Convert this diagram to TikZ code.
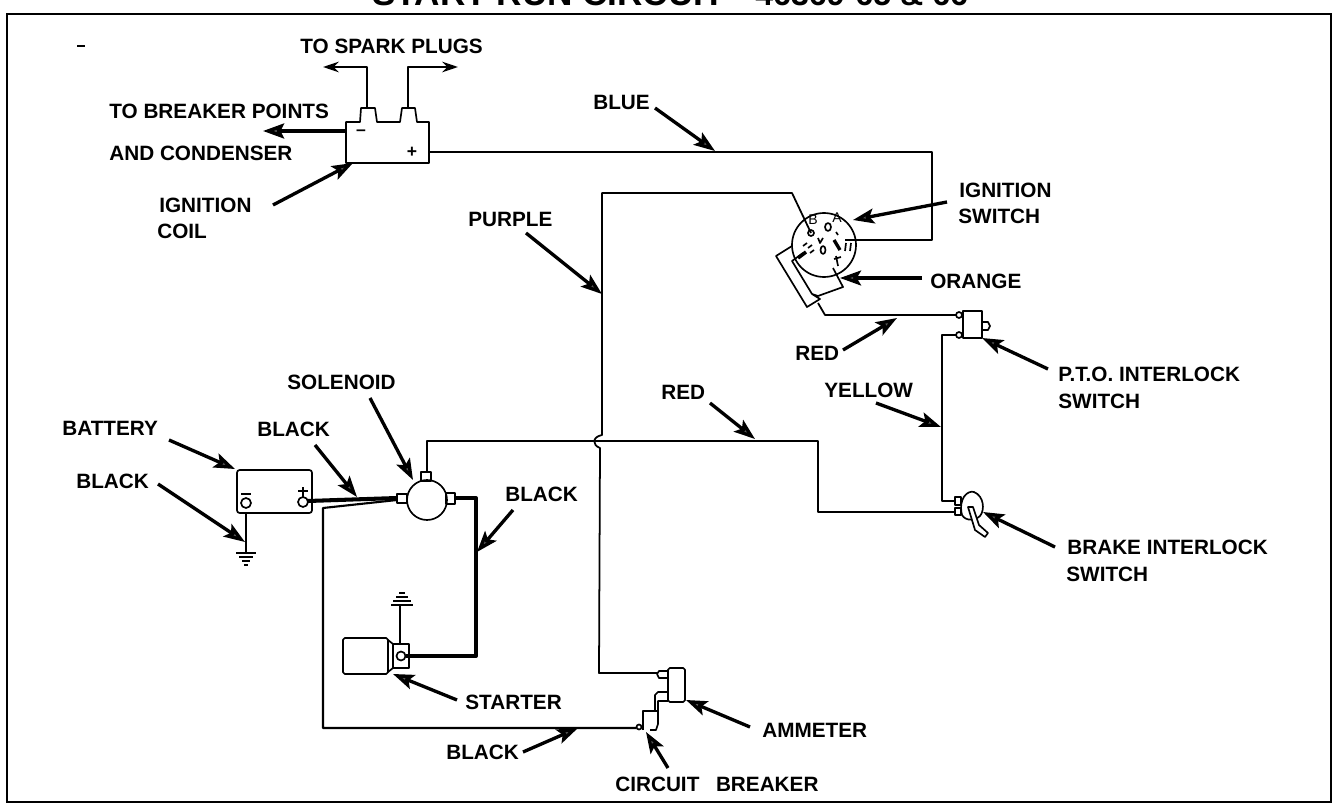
\documentclass[tikz,border=0pt]{standalone}
\usepackage{fontspec}
\setmainfont{Liberation Sans}
\usetikzlibrary{arrows.meta}
\tikzset{
    wire/.style={line width=1pt, line join=round},
    heavywire/.style={line width=2.3pt, line join=round},
    part/.style={line width=0.95pt, line join=round},
    pointer/.style={line width=1.9pt, -{Stealth[length=12pt, width=8.5pt, inset=2.5pt, fill=black!65]}},
    tag/.style={anchor=west, inner sep=0pt, font=\fontsize{11.8}{12}\selectfont\bfseries},
}

\begin{document}
\begin{tikzpicture}[x=0.02cm, y=-0.02cm]
                \useasboundingbox (0,0) rectangle (1332,804);
                \clip (0,0) rectangle (1332,804);
                \fill[white] (0,0) rectangle (1332,804);
                \draw[line width=1.2pt] (7,14) rectangle (1331,802);
                \node[anchor=base west, inner sep=0pt, font=\fontsize{20}{20}\selectfont\bfseries] (title) at (372,6) {START-RUN CIRCUIT};
                \node[anchor=base west, inner sep=0pt, font=\fontsize{18.3}{18}\selectfont\bfseries] (titlenum) at (755,6) {46369-65 \& 66};
                \fill (77,45) rectangle (85,47);

                % ignition coil
                \draw[part] (346,163) -- (346,122) -- (360,122) -- (361,108) -- (375,108) -- (377,122) -- (400,122) -- (402,108) -- (415,108) -- (417,122) -- (429,122) -- (429,163) -- cycle;
                \node[font=\bfseries, inner sep=0pt] (coilminus) at (361,133) {--};
                \node[font=\bfseries, inner sep=0pt] (coilplus) at (412,152) {+};
                \coordinate (plugleft) at (367,108);
                \coordinate (plugleftend) at (323,67);
                \coordinate (plugright) at (408,108);
                \coordinate (plugrightend) at (458,67);
                \draw[wire, line width=1.4pt, -{Stealth[length=9pt, width=6pt]}] (plugleft) |- (plugleftend);
                \draw[wire, line width=1.4pt, -{Stealth[length=9pt, width=6pt]}] (plugright) |- (plugrightend);
                \coordinate (coilside) at (346,131);
                \coordinate (pointsend) at (263,131);
                \draw[line width=2pt, -{Stealth[length=12pt, width=8.5pt, inset=2pt, fill=black!65]}] (coilside) -- (pointsend);

                % ignition switch
                \draw[part] (824,245) circle (32);
                \node[inner sep=0pt, font=\fontsize{8}{8}\selectfont] (termb) at (813,220) {B};
                \node[inner sep=0pt, font=\fontsize{8}{8}\selectfont] (terma) at (837,218) {A};
                \draw[part] (811,233) circle (3);
                \draw[part] (828,227) ellipse (3 and 4);
                \draw[part] (823,250) ellipse (2.5 and 4);
                \draw[part] (818,238) -- (820,243) -- (823,238);
                \draw[part] (836,232) -- (838,235);
                \draw[line width=1.9pt] (834,240) -- (840,250);
                \draw[part] (846,243) -- (845,251) (851,243) -- (850,251);
                \draw[part] (803,246) -- (807,243) (808,248) -- (812,245) (810,253) -- (814,250);
                \draw[line width=2pt] (798,258) -- (806,252);
                \draw[part] (834,259) -- (841,257) (836,256) -- (838,266);
                \draw[part] (792,246) -- (776,256) -- (807,307) -- (820,299) -- (812,294) -- (818,296) -- (843,287) -- (833,268);
                \draw[part] (803,253) -- (792,261) -- (812,294);

                % p.t.o. interlock switch
                \draw[part] (963,311) rectangle (982,338);
                \draw[part] (982,322) -- (988,322) -- (990,326) -- (988,330) -- (982,330);
                \draw[part] (959,315) circle (3);
                \draw[part] (959,335) circle (3);

                % brake interlock switch
                \draw[part] (962,515) .. controls (958,498) and (968,490) .. (974,492) .. controls (984,496) and (985,510) .. (980,516) .. controls (976,520) and (966,522) .. (962,515);
                \draw[part] (955,497) rectangle (961,505);
                \draw[part] (955,508) rectangle (961,515);
                \draw[part, fill=white] (968,507) -- (975,530) -- (985,537) -- (988,533) -- (979,525) -- (973,507) -- cycle;

                % solenoid
                \draw[part] (427,500) circle (20);
                \draw[part] (397,494) rectangle (407,503);
                \draw[part] (446,493) rectangle (455,504);
                \draw[part] (421,472) rectangle (431,481);

                % battery
                \draw[part, rounded corners=1.5pt] (237,470) rectangle (312,513);
                \draw[part] (246,503) circle (5);
                \draw[part] (241,494) -- (251,494);
                \draw[part] (303,502) circle (5);
                \draw[part] (298,491) -- (308,491) (303,487) -- (303,497);
                \coordinate (batground) at (246,513);
                \coordinate (batgroundend) at (246,553);
                \draw[wire] (batground) -- (batgroundend);
                \draw[wire] (236,553) -- (256,553) (239,557) -- (253,557) (242,561) -- (250,561) (244,565) -- (248,565);

                % starter
                \draw[part, rounded corners=1pt] (343,638) rectangle (388,674);
                \draw[part] (388,640) -- (393,644) (388,672) -- (393,668);
                \draw[part] (393,644) rectangle (409,668);
                \draw[part] (401,656) circle (4.5);
                \coordinate (startground) at (400,644);
                \coordinate (startgroundend) at (400,605);
                \draw[wire] (startground) -- (startgroundend);
                \draw[wire] (391,605) -- (413,605) (393,601) -- (411,601) (396,597) -- (408,597) (399,593) -- (405,593);

                % ammeter and circuit breaker
                \draw[part, rounded corners=1pt] (668,668) rectangle (685,702);
                \draw[part] (668,671) -- (659,671) -- (657,674) -- (659,678) -- (668,678);
                \draw[part] (668,692) -- (658,692) -- (655,695) -- (655,711) (668,701) -- (658,701) -- (658,724) -- (656,730) -- (650,730);
                \draw[part] (643,730) -- (643,711) -- (658,711);
                \draw[part] (639,727) circle (2.5);

                % wires
                \coordinate (blueturn) at (932,152);
                \coordinate (blueend) at (845,240);
                \coordinate (blueup) at (429,152);
                \draw[wire] (blueup) -- (blueturn) -- (blueturn |- blueend) -- (blueend);
                \coordinate (purpleterm) at (811,233);
                \coordinate (purplebend) at (792,193);
                \coordinate (purpletop) at (602,193);
                \coordinate (hoptop) at (602,435);
                \coordinate (hopbottom) at (600,448);
                \coordinate (purplelow) at (599,673);
                \coordinate (amtab) at (657,673);
                \draw[wire] (purpleterm) -- (purplebend) -- (purpletop) -- (hoptop) .. controls (592,437) and (592,445) .. (hopbottom) -- (purplelow) -- (amtab);
                \coordinate (solentop) at (427,472);
                \coordinate (redleft) at (427,441);
                \coordinate (redright) at (818,441);
                \coordinate (redlow) at (818,512);
                \coordinate (braketerm) at (955,512);
                \draw[wire] (solentop) -- (redleft) -- (redright) -- (redlow) -- (braketerm);
                \coordinate (plugred) at (818,303);
                \coordinate (plugredlow) at (825,315);
                \coordinate (ptotop) at (956,315);
                \draw[wire] (plugred) -- (plugredlow) -- (ptotop);
                \coordinate (ptobottom) at (956,335);
                \coordinate (yellowtop) at (942,335);
                \coordinate (yellowlow) at (942,501);
                \coordinate (braketop) at (955,501);
                \draw[wire] (ptobottom) -- (yellowtop) -- (yellowlow) -- (braketop);
                \coordinate (batplus) at (308,501);
                \coordinate (solenleft) at (397,498);
                \draw[heavywire] (batplus) -- (solenleft);
                \coordinate (solenright) at (455,498);
                \coordinate (heavyturn) at (476,498);
                \coordinate (heavylow) at (476,656);
                \coordinate (startterm) at (406,656);
                \draw[heavywire] (solenright) -- (heavyturn) -- (heavylow) -- (startterm);
                \coordinate (breakstart) at (397,500);
                \coordinate (breakturn) at (323,508);
                \coordinate (breaklow) at (323,728);
                \coordinate (breakterm) at (636,728);
                \draw[wire, line width=1.2pt] (breakstart) -- (breakturn) -- (breaklow) -- (breakterm);

                % labels
                \node[tag] (sparklabel) at (300,46) {TO SPARK PLUGS};
                \node[tag] (pointslabel) at (109,111) {TO BREAKER POINTS};
                \node[tag] (condenserlabel) at (109,153) {AND CONDENSER};
                \node[tag] (ignitionlabel) at (159,205) {IGNITION};
                \node[tag] (coillabel) at (157,231) {COIL};
                \node[tag] (bluelabel) at (593,102) {BLUE};
                \node[tag] (purplelabel) at (468,219) {PURPLE};
                \node[tag] (switchlabel) at (959,190) {IGNITION};
                \node[tag] (switchlabeltwo) at (958,216) {SWITCH};
                \node[tag] (orangelabel) at (930,281) {ORANGE};
                \node[tag] (redlabel) at (795,353) {RED};
                \node[tag] (ptolabel) at (1058,374) {P.T.O. INTERLOCK};
                \node[tag] (ptolabeltwo) at (1058,401) {SWITCH};
                \node[tag] (yellowlabel) at (824,390) {YELLOW};
                \node[tag] (redmidlabel) at (661,392) {RED};
                \node[tag] (solenoidlabel) at (287,382) {SOLENOID};
                \node[tag] (batterylabel) at (62,428) {BATTERY};
                \node[tag] (blackuplabel) at (257,429) {BLACK};
                \node[tag] (blackleftlabel) at (76,481) {BLACK};
                \node[tag] (blackrightlabel) at (505,494) {BLACK};
                \node[tag] (brakelabel) at (1067,547) {BRAKE INTERLOCK};
                \node[tag] (brakelabeltwo) at (1066,574) {SWITCH};
                \node[tag] (starterlabel) at (465,702) {STARTER};
                \node[tag] (ammeterlabel) at (762,730) {AMMETER};
                \node[tag] (blacklowlabel) at (446,752) {BLACK};
                \node[tag] (breakerlabel) at (615,784) {CIRCUIT\hspace{0.8em}BREAKER};

                % pointers
                \coordinate (coiltail) at (273,205);
                \coordinate (coiltip) at (353,163);
                \draw[pointer] (coiltail) -- (coiltip);
                \coordinate (bluetail) at (655,108);
                \coordinate (bluetip) at (715,151);
                \draw[pointer] (bluetail) -- (bluetip);
                \coordinate (purpletail) at (526,233);
                \coordinate (purpletip) at (602,294);
                \draw[pointer] (purpletail) -- (purpletip);
                \coordinate (switchtail) at (947,202);
                \coordinate (switchtip) at (853,220);
                \draw[pointer] (switchtail) -- (switchtip);
                \coordinate (orangetail) at (922,278);
                \coordinate (orangetip) at (840,278);
                \draw[pointer] (orangetail) -- (orangetip);
                \coordinate (redtail) at (843,350);
                \coordinate (redtip) at (897,318);
                \draw[pointer] (redtail) -- (redtip);
                \coordinate (ptotail) at (1048,369);
                \coordinate (ptotip) at (982,338);
                \draw[pointer] (ptotail) -- (ptotip);
                \coordinate (yellowtail) at (876,403);
                \coordinate (yellowtip) at (941,427);
                \draw[pointer] (yellowtail) -- (yellowtip);
                \coordinate (redmidtail) at (710,403);
                \coordinate (redmidtip) at (755,439);
                \draw[pointer] (redmidtail) -- (redmidtip);
                \coordinate (braketail) at (1055,547);
                \coordinate (braketip) at (983,512);
                \draw[pointer] (braketail) -- (braketip);
                \coordinate (solenoidtail) at (370,398);
                \coordinate (solenoidtip) at (413,480);
                \draw[pointer] (solenoidtail) -- (solenoidtip);
                \coordinate (batterytail) at (169,440);
                \coordinate (batterytip) at (235,469);
                \draw[pointer] (batterytail) -- (batterytip);
                \coordinate (blackuptail) at (315,445);
                \coordinate (blackuptip) at (357,497);
                \draw[pointer] (blackuptail) -- (blackuptip);
                \coordinate (blacklefttail) at (158,484);
                \coordinate (blacklefttip) at (245,542);
                \draw[pointer] (blacklefttail) -- (blacklefttip);
                \coordinate (blackrighttail) at (513,510);
                \coordinate (blackrighttip) at (477,552);
                \draw[pointer] (blackrighttail) -- (blackrighttip);
                \coordinate (startertail) at (457,700);
                \coordinate (startertip) at (393,674);
                \draw[pointer] (startertail) -- (startertip);
                \coordinate (ammetertail) at (750,727);
                \coordinate (ammetertip) at (686,700);
                \draw[pointer] (ammetertail) -- (ammetertip);
                \coordinate (breakertail) at (668,768);
                \coordinate (breakertip) at (646,732);
                \draw[pointer] (breakertail) -- (breakertip);
                \coordinate (blacklowtail) at (523,752);
                \coordinate (blacklowtip) at (578,728);
                \draw[pointer] (blacklowtail) -- (blacklowtip);
            \end{tikzpicture}
\end{document}
